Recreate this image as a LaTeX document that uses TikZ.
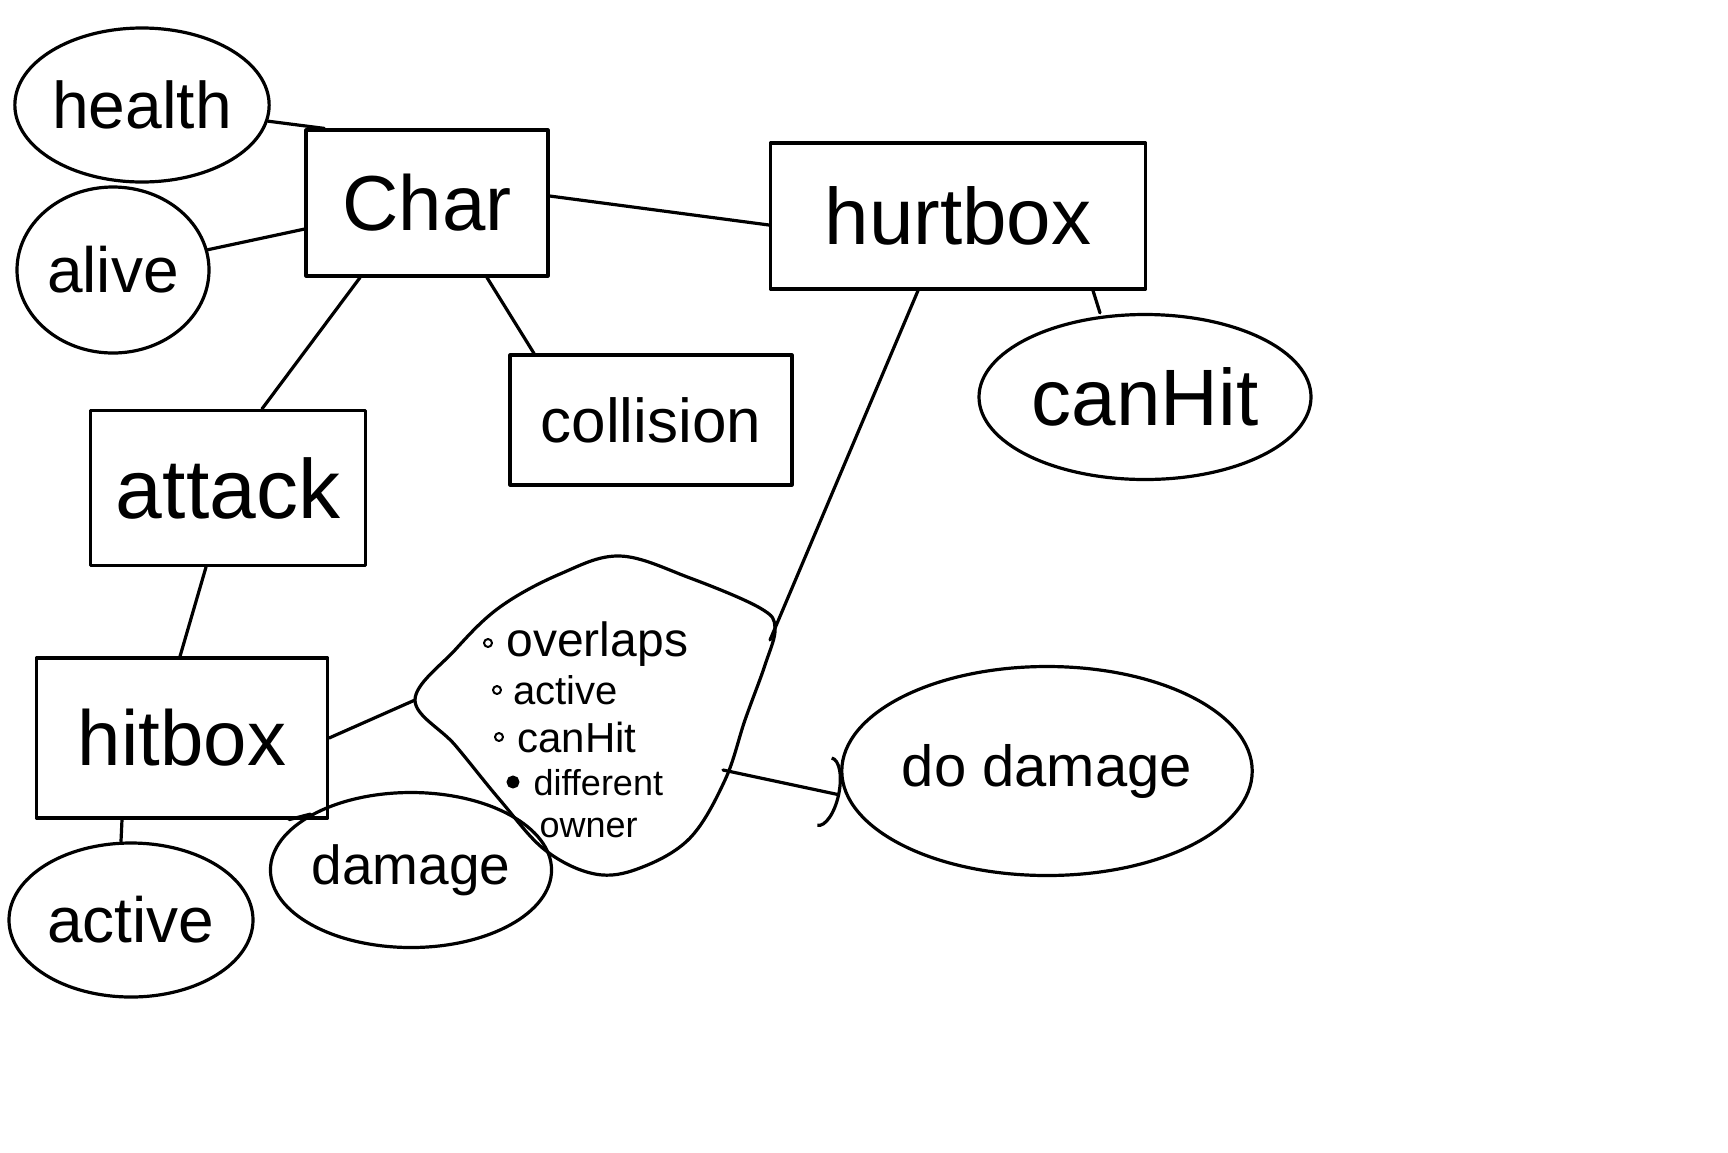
\documentclass[tikz,border=0pt]{standalone}
\usepackage{fontspec}
\setmainfont{Liberation Sans}
\usetikzlibrary{shapes.geometric,arrows.meta}
\newcommand\hsz[1]{\fontsize{#1}{#1}\selectfont}
\begin{document}
\begin{tikzpicture}[x=1pt,y=-1pt, line width=3.2pt, line cap=round, line join=round,
  box/.style={draw, rectangle, inner sep=0pt},
  oval/.style={draw, ellipse, inner sep=0pt},
  bul/.style={draw, circle, line width=2pt, minimum size=8pt, inner sep=0pt},
  item/.style={anchor=base west, inner sep=0pt},
  link/.style={draw}]
\useasboundingbox[fill=white] (0,0) rectangle (1728,1152);

% attribute ellipses
\node[oval, minimum width=250pt, minimum height=154pt, font=\hsz{66}] (health) at (142,105) {health};
\node[oval, minimum width=192pt, minimum height=166pt, font=\hsz{64}] (alive) at (113,270) {alive};
\node[oval, minimum width=332pt, minimum height=165pt, font=\hsz{80}] (canhit) at (1145,397) {canHit};
\node[oval, minimum width=244pt, minimum height=154pt, font=\hsz{64}] (active) at (131,920) {active};
\node[oval, minimum width=261pt, minimum height=155pt, font=\hsz{55}] (damage) at (411,870) {damage};
\node[oval, minimum width=396pt, minimum height=209pt, font=\hsz{58}] (dodmg) at (1047,771) {do damage};

% boxes
\node[box, minimum width=242pt, minimum height=146pt, font=\hsz{78}] (char) at (427,203) {Char};
\node[box, minimum width=375pt, minimum height=146pt, font=\hsz{80}] (hurtbox) at (958,216) {hurtbox};
\node[box, minimum width=282pt, minimum height=130pt, font=\hsz{62}] (collision) at (651,420) {collision};
\node[box, minimum width=275pt, minimum height=155pt, font=\hsz{84}] (attack) at (228,488) {attack};
\node[box, minimum width=291pt, minimum height=160pt, font=\hsz{78}] (hitbox) at (182,738) {hitbox};

% condition blob
\draw plot[smooth cycle, tension=0.6] coordinates {(415,700) (455,650) (500,607) (560,574) (620,556) (690,578) (760,608) (775,628) (765,665) (745,720) (725,780) (690,838) (640,868) (595,874) (545,850) (500,800) (455,745)};
\coordinate (bW) at (415,700);
\coordinate (bE) at (770,640);
\coordinate (bR) at (723,770);

\node[bul] (b1) at (488,643) {};
\node[bul] (b2) at (497,690) {};
\node[bul] (b3) at (499,737) {};
\node[bul, fill=black, minimum size=11pt] (b4) at (513,782) {};
\node[item, font=\hsz{48}] (l1) at (505,656) {overlaps};
\node[item, font=\hsz{40}] (l2) at (512,704) {active};
\node[item, font=\hsz{42}] (l3) at (516,752) {canHit};
\node[item, font=\hsz{36}] (l4) at (532,795) {different};
\node[item, font=\hsz{36}] (l5) at (538,837) {owner};

% connectors
\draw (health) -- ([xshift=20pt]char.north west);
\draw (alive) -- (char);
\draw ([yshift=7pt]char.east) -- ([yshift=-9pt]hurtbox.west);
\draw ([xshift=-67pt]char.south) -- ([xshift=34pt]attack.north);
\draw ([xshift=60pt]char.south) -- ([xshift=-117pt]collision.north);
\draw ([xshift=135pt]hurtbox.south) -- ([xshift=-45pt]canhit.north);
\draw ([xshift=-40pt]hurtbox.south) -- (bE);
\draw ([xshift=-22pt]attack.south) -- ([xshift=-2pt]hitbox.north);
\draw (hitbox.east) -- (bW);
\draw ([xshift=-60pt]hitbox.south) -- ([xshift=-10pt]active.north);
\draw ([xshift=-40pt]hitbox.south east) -- (damage.north west);
\draw[-{Arc Barb[length=16pt,width=72pt]}] (bR) -- ([yshift=-24pt]dodmg.west);
\end{tikzpicture}
\end{document}
